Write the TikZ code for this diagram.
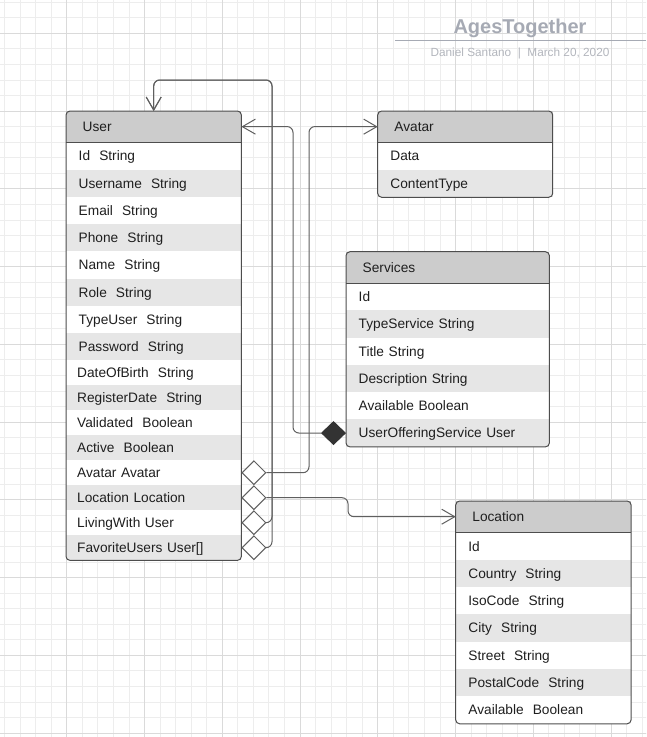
\documentclass[tikz,border=0pt]{standalone}
\usepackage{fontspec}
\setmainfont{Liberation Sans}
\usetikzlibrary{arrows.meta,positioning,shapes.geometric}
\usepackage{xcolor}

\definecolor{headgray}{HTML}{CCCCCC}
\definecolor{rowgray}{HTML}{E6E6E6}
\definecolor{boxline}{HTML}{4D4D4D}
\definecolor{linkgray}{HTML}{5F5F5F}
\definecolor{markgray}{HTML}{333333}
\definecolor{titlegray}{HTML}{A6AAB4}
\definecolor{subgray}{HTML}{B3B6BD}
\definecolor{gridminor}{HTML}{EDEDED}
\definecolor{gridmajor}{HTML}{DADADA}

\begin{document}
\begin{tikzpicture}[x=1pt, y=-1pt, every node/.style={
    rectangle,
    inner sep=0pt,
    text height=9.8pt,
    text depth=0pt,
    text=black!88,
    font=\fontsize{13.7}{16}\selectfont
},
head/.style={anchor=north west, minimum height=31pt, inner xsep=16.5pt, text width=#1, align=left, fill=headgray},
field/.style={anchor=north west, minimum height=27.3pt, inner xsep=12.5pt, text width=#1, align=left, fill=white},
lowrow/.style={minimum height=25pt, inner xsep=11pt, text width=153pt},
altrow/.style={fill=rowgray},
tablebox/.style={draw=boxline, line width=1pt, rounded corners=4pt},
headrule/.style={draw=boxline, line width=1pt},
link/.style={draw=linkgray, line width=1pt, rounded corners=6pt},
arrowend/.style={-{Straight Barb[length=13pt, width=15pt]}},
hollow/.style={diamond, draw=linkgray, fill=white, line width=1pt, minimum width=24pt, minimum height=24pt, text height=0pt},
filledmark/.style={diamond, draw=markgray, fill=markgray, line width=1pt, minimum width=24pt, minimum height=23pt, text height=0pt}
]

    \useasboundingbox (0,0) rectangle (646,737);
    \clip (0,0) rectangle (646,737);
    \fill[white] (0,0) rectangle (646,737);

    \begin{scope}[shift={(66.7,33.3)}]
        \draw[gridminor, line width=0.8pt, step=15.55pt] (-80,-40) grid (600,720);
        \draw[gridmajor, line width=0.8pt, step=77.75pt] (-80,-40) grid (600,720);
    \end{scope}



    \node (title) [anchor=base, text=titlegray, font=\fontsize{20}{24}\selectfont\bfseries, shift={(520,33)}]
    {
        AgesTogether
    };

    \node (byline) [anchor=base, text=subgray, font=\fontsize{11.8}{14}\selectfont, shift={(520,56.5)}]
    {
        Daniel Santano\ \ |\ \ March 20, 2020
    };

    \draw[titlegray, line width=1.3pt] (395,40.7) -- (646,40.7);



    \node (user_head) [head=142pt, shift={(66,111)}] {User};
    \node (user_id) [field=150pt, shift={(66,142)}] {Id\ \ String};
    \node (user_username) [field=150pt, altrow, shift={(66,169.3)}] {Username\ \ String};
    \node (user_email) [field=150pt, shift={(66,196.6)}] {Email\ \ String};
    \node (user_phone) [field=150pt, altrow, shift={(66,223.9)}] {Phone\ \ String};
    \node (user_name) [field=150pt, shift={(66,251.2)}] {Name\ \ String};
    \node (user_role) [field=150pt, altrow, shift={(66,278.5)}] {Role\ \ String};
    \node (user_typeuser) [field=150pt, shift={(66,305.8)}] {TypeUser\ \ String};
    \node (user_password) [field=150pt, altrow, shift={(66,333.1)}] {Password\ \ String};
    \node (user_birth) [field=150pt, lowrow, shift={(66,360)}] {DateOfBirth\ \ String};
    \node (user_register) [field=150pt, lowrow, altrow, shift={(66,385)}] {RegisterDate\ \ String};
    \node (user_validated) [field=150pt, lowrow, shift={(66,410)}] {Validated\ \ Boolean};
    \node (user_active) [field=150pt, lowrow, altrow, shift={(66,435)}] {Active\ \ Boolean};
    \node (user_avatar) [field=150pt, lowrow, shift={(66,460)}] {Avatar Avatar};
    \node (user_location) [field=150pt, lowrow, altrow, shift={(66,485)}] {Location Location};
    \node (user_living) [field=150pt, lowrow, shift={(66,510)}] {LivingWith User};
    \node (user_fav) [field=150pt, lowrow, altrow, shift={(66,535)}] {FavoriteUsers User[]};

    \draw[tablebox] (user_head.north west) rectangle (user_fav.south east);
    \draw[headrule] (user_head.south west) -- (user_head.south east);



    \node (avatar_head) [head=141.6pt, shift={(377.7,111)}] {Avatar};
    \node (avatar_data) [field=149.6pt, shift={(377.7,142)}] {Data};
    \node (avatar_type) [field=149.6pt, altrow, shift={(377.7,169.6)}] {ContentType};

    \draw[tablebox] (avatar_head.north west) rectangle (avatar_type.south east);
    \draw[headrule] (avatar_head.south west) -- (avatar_head.south east);



    \node (svc_head) [head=170pt, shift={(346,251.7)}] {Services};
    \node (svc_id) [field=178pt, shift={(346,282.7)}] {Id};
    \node (svc_type) [field=178pt, altrow, shift={(346,310)}] {TypeService String};
    \node (svc_title) [field=178pt, shift={(346,337.3)}] {Title String};
    \node (svc_desc) [field=178pt, altrow, shift={(346,364.6)}] {Description String};
    \node (svc_available) [field=178pt, shift={(346,391.9)}] {Available Boolean};
    \node (svc_offer) [field=178pt, altrow, shift={(346,419.2)}] {UserOfferingService User};

    \draw[tablebox] (svc_head.north west) rectangle (svc_offer.south east);
    \draw[headrule] (svc_head.south west) -- (svc_head.south east);



    \node (location_head) [head=142pt, shift={(455.7,501)}] {Location};
    \node (location_id) [field=150pt, shift={(455.7,532.3)}] {Id};
    \node (location_country) [field=150pt, altrow, shift={(455.7,559.6)}] {Country\ \ String};
    \node (location_iso) [field=150pt, shift={(455.7,586.9)}] {IsoCode\ \ String};
    \node (location_city) [field=150pt, altrow, shift={(455.7,614.2)}] {City\ \ String};
    \node (location_street) [field=150pt, shift={(455.7,641.5)}] {Street\ \ String};
    \node (location_postal) [field=150pt, altrow, shift={(455.7,668.8)}] {PostalCode\ \ String};
    \node (location_available) [field=150pt, shift={(455.7,696.1)}] {Available\ \ Boolean};

    \draw[tablebox] (location_head.north west) rectangle (location_available.south east);
    \draw[headrule] (location_head.south west) -- (location_head.south east);



    \coordinate (loop_top) at (272,80);
    \coordinate (offer_bend) at (293,126.5);
    \coordinate (avatar_bend) at (309,126.5);
    \coordinate (loc_turn) at (348,507);

    \node (d_avatar) [hollow, right=0pt of user_avatar] {};
    \node (d_location) [hollow, right=0pt of user_location] {};
    \node (d_living) [hollow, right=0pt of user_living] {};
    \node (d_fav) [hollow, right=0pt of user_fav] {};
    \node (d_offer) [filledmark, left=0pt of svc_offer] {};

    \draw[link, arrowend] (d_living.east) -| (loop_top) -| (user_head.north);
    \draw[link, arrowend] (d_fav.east) -| (loop_top) -| (user_head.north);
    \draw[link, arrowend] (d_offer.west) -| (offer_bend) -- (user_head.east);
    \draw[link, arrowend] (d_avatar.east) -| (avatar_bend) -- (avatar_head.west);
    \draw[link, arrowend] (d_location.east) -- (d_location.east -| loc_turn) |- (location_head.west);


\end{tikzpicture}
\end{document}
